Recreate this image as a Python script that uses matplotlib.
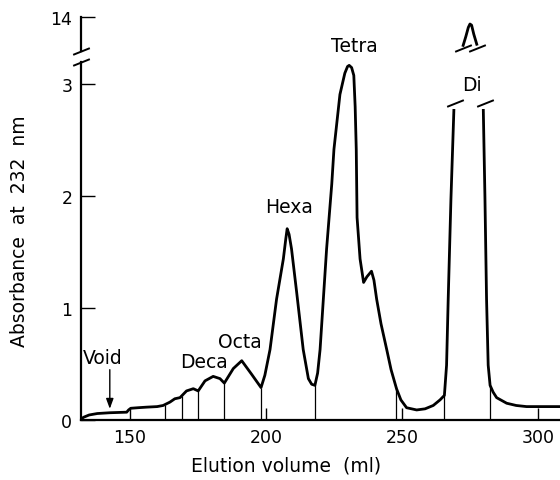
import numpy as np
import matplotlib.pyplot as plt

# ---- Data ----
volume = [131.5, 133.0, 135.0, 138.0, 142.6, 148.8, 149.5, 150.3, 153.0, 156.1,
          160.0, 162.2, 164.7, 166.5, 168.4, 170.0, 170.8, 173.3, 175.1, 177.6,
          180.6, 183.1, 184.7, 188.0, 191.1, 194.7, 198.2, 199.6, 201.5, 203.9,
          206.4, 207.3, 207.8, 208.5, 209.4, 211.3, 213.7, 215.6, 216.8, 218.0,
          219.0, 219.9, 222.3, 224.2, 225.0, 227.2, 229.0, 230.0, 230.6, 231.5,
          232.3, 232.8, 233.2, 233.5, 234.6, 235.9, 237.1, 238.8, 239.7, 240.7,
          242.3, 244.4, 246.0, 248.0, 249.6, 251.7, 255.4, 258.5, 261.5, 264.0,
          265.6, 266.4, 267.0, 268.0, 269.1, np.nan, 279.9, 280.5, 281.1, 281.7,
          282.4, 283.5, 284.8, 288.5, 292.0, 295.8, 302.0, 308.5]
absorbance = [0.0, 0.025, 0.045, 0.058, 0.065, 0.07, 0.09, 0.105, 0.11, 0.115,
              0.12, 0.13, 0.16, 0.19, 0.2, 0.24, 0.26, 0.28, 0.26, 0.35,
              0.39, 0.37, 0.33, 0.46, 0.53, 0.41, 0.29, 0.40, 0.63, 1.08,
              1.44, 1.62, 1.71, 1.66, 1.53, 1.14, 0.63, 0.37, 0.32, 0.31,
              0.42, 0.63, 1.53, 2.11, 2.42, 2.91, 3.10, 3.16, 3.17, 3.15,
              3.08, 2.80, 2.42, 1.81, 1.44, 1.23, 1.28, 1.33, 1.25, 1.08,
              0.86, 0.63, 0.45, 0.28, 0.18, 0.11, 0.09, 0.10, 0.13, 0.18,
              0.22, 0.49, 1.08, 1.97, 2.78, np.nan, 2.78, 2.00, 1.08, 0.49,
              0.31, 0.25, 0.20, 0.15, 0.13, 0.12, 0.12, 0.12]

# top of the off-scale "Di" peak
di_volume = [272.5, 273.5, 274.4, 275.0, 275.6, 276.4, 277.5]
di_absorbance = [13.75, 13.83, 13.91, 13.94, 13.93, 13.85, 13.76]

# fraction cuts
cuts = [162.9, 169.0, 175.0, 184.6, 198.2, 218.0, 247.8, 265.6, 282.4]

peak_names = ['Deca', 'Octa', 'Hexa', 'Tetra', 'Di']
label_vol = [177.2, 190.4, 208.5, 232.4, 275.6]
label_abs = [0.52, 0.70, 1.91, 3.35, 3.00]

x_ticks = [150, 200, 250, 300]
y_ticks = [0, 1, 2, 3]

plt.rcParams['font.family'] = ['DejaVu Sans']

fig = plt.figure(figsize=(5.6, 4.81), dpi=100)
ax = fig.add_axes([0.1441, 0.1247, 0.8559, 0.7443])
ax_top = fig.add_axes([0.1441, 0.8919, 0.8559, 0.0701])

ax.plot(volume, absorbance, color='black', lw=2.0, solid_capstyle='butt')
tops = np.interp(cuts, np.array(volume)[~np.isnan(volume)],
                 np.array(absorbance)[~np.isnan(absorbance)])
ax.vlines(cuts, 0, tops, color='black', lw=0.9)

ax_top.plot(di_volume, di_absorbance, color='black', lw=2.0, clip_on=False)

for ax_ in (ax, ax_top):
    ax_.set_xlim(131.9, 308.1)
    ax_.spines['top'].set_visible(False)
    ax_.spines['right'].set_visible(False)
    for s in ax_.spines.values():
        s.set_linewidth(1.6)

ax.set_ylim(0, 3.2)
ax.set_xticks(x_ticks)
ax.set_yticks(y_ticks)
ax.tick_params(axis='x', direction='in', length=8.5, width=1.0, labelsize=12.5, pad=6)
ax.tick_params(axis='y', direction='in', length=10, width=1.0, labelsize=12.5, pad=6)

ax_top.set_ylim(13.7, 14.0)
ax_top.set_yticks([14])
ax_top.spines['bottom'].set_visible(False)
ax_top.set_xticks([])
ax_top.tick_params(axis='y', direction='in', length=10, width=1.0, labelsize=12.5, pad=6)
ax_top.patch.set_visible(False)

# axis break marks
brk = dict(marker=[(-1, -0.4), (1, 0.4)], markersize=12, linestyle='none',
           color='black', mec='black', mew=1.4, clip_on=False)
ax.plot([0], [1], transform=ax.transAxes, **brk)
ax_top.plot([0], [0], transform=ax_top.transAxes, **brk)
ax.plot([269.6, 280.4], [2.83, 2.83], **brk)
ax_top.plot([di_volume[0], di_volume[-1]], [13.73, 13.73], **brk)

for name, xv, yv in zip(peak_names, label_vol, label_abs):
    ax.text(xv, yv, name, ha='center', va='center', fontsize=13.5)

ax.text(140.0, 0.56, 'Void', ha='center', va='center', fontsize=13.5)
ax.annotate('', xy=(142.6, 0.10), xytext=(142.6, 0.45),
            arrowprops=dict(arrowstyle='-|>,head_length=0.6,head_width=0.22',
                            color='black', lw=1.0, shrinkA=0, shrinkB=0))

ax.set_xlabel('Elution volume  (ml)', fontsize=13.5)
ax.xaxis.set_label_coords(0.428, -0.10)
ax.set_ylabel('Absorbance  at  232  nm', fontsize=13.5)
ax.yaxis.set_label_coords(-0.108, 0.53)

fig.savefig('out.png', dpi=100)
